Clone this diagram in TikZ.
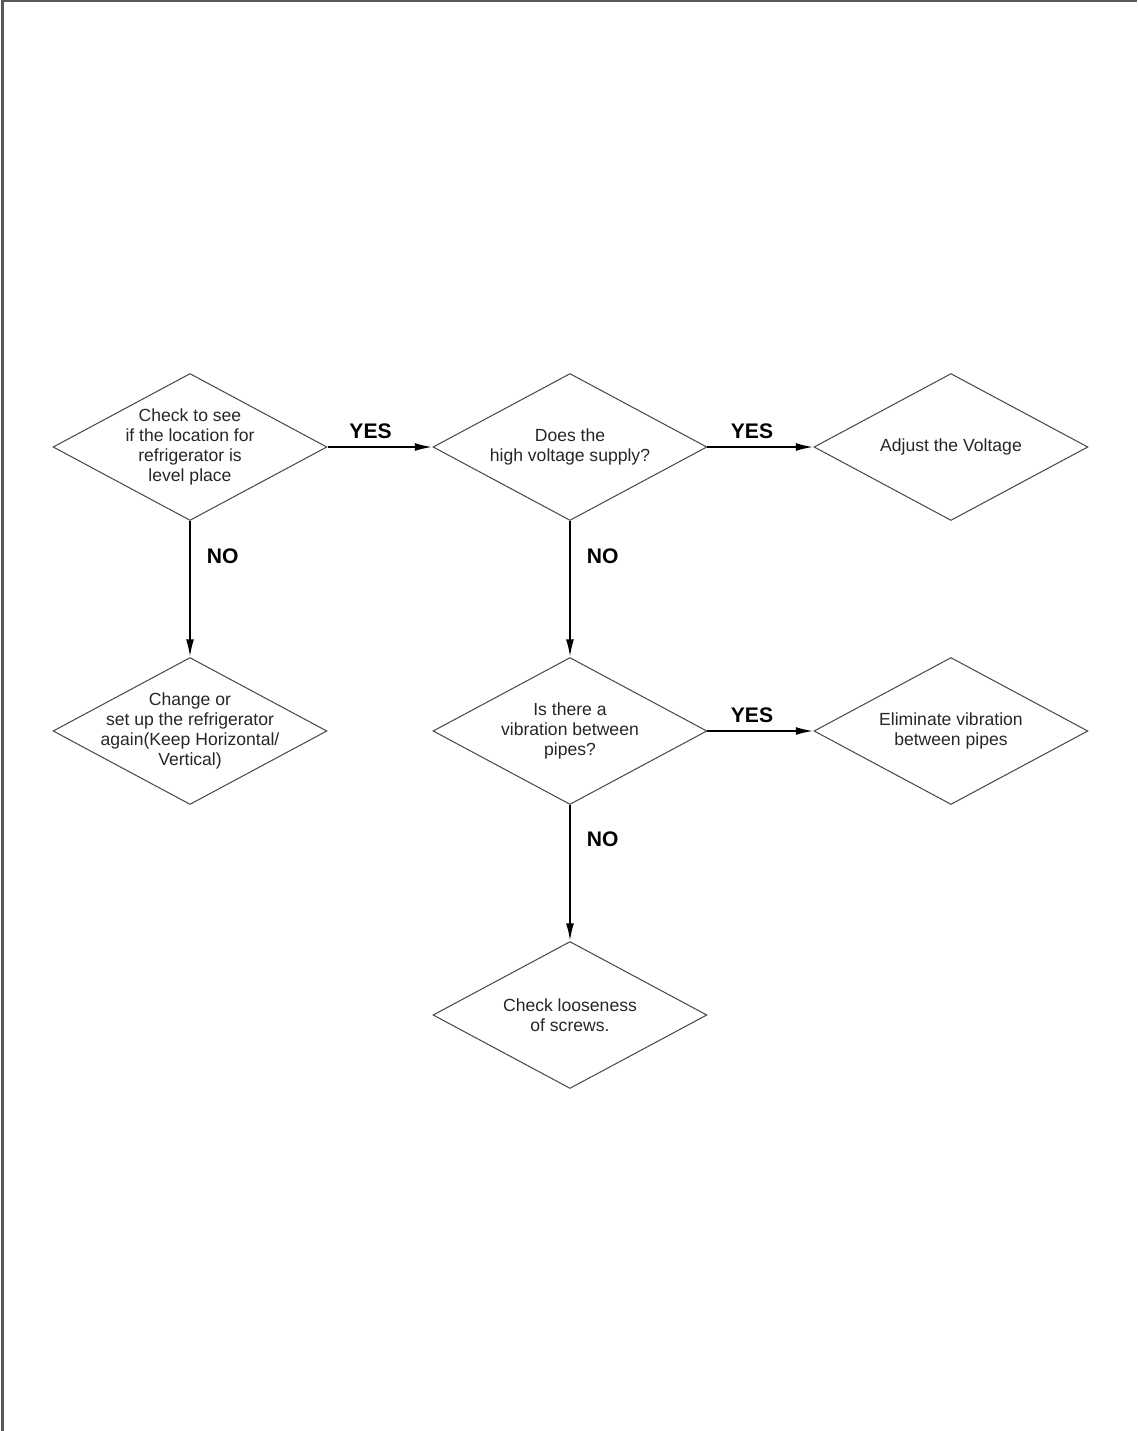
\documentclass[tikz,border=0pt]{standalone}
\usepackage{fontspec}
\setmainfont{Liberation Sans}
\usetikzlibrary{positioning,arrows.meta,shapes.geometric}

\begin{document}
\begin{tikzpicture}[x=0.02cm,y=-0.02cm,
  every node/.style={font=\fontsize{10}{11.4}\selectfont,text=black!85},
  choice/.style={diamond,draw=black!70,line width=0.6pt,inner sep=0pt,
    minimum width=5.48cm,minimum height=2.94cm,
    label={[align=center,inner sep=0pt]center:{#1}}},
  arrow/.style={-{Latex[length=10pt,width=4.5pt]},line width=1.1pt},
  ans/.style={font=\bfseries\fontsize{12}{14}\selectfont,text=black,inner sep=0pt}
]
  \useasboundingbox (0,0) rectangle (1137,1431);
  % scan edge
  \draw[black!65,line width=1.2pt] (2.5,1431) -- (2.5,0.6) -- (1137,0.6);

  \node[choice={Check to see\\if the location for\\refrigerator is\\level place}] (level) at (190,447) {};
  \node[choice={Does the\\high voltage supply?},right=2.1cm of level] (volt) {};
  \node[choice={Adjust the Voltage},right=2.12cm of volt] (adjust) {};
  \node[choice={Change or\\set up the refrigerator\\again(Keep Horizontal/\\Vertical)},below=2.72cm of level] (setup) {};
  \node[choice={Is there a\\vibration between\\pipes?},below=2.72cm of volt] (pipes) {};
  \node[choice={Eliminate vibration\\between pipes},below=2.72cm of adjust] (elim) {};
  \node[choice={Check looseness\\of screws.},below=2.72cm of pipes] (screws) {};

  \draw[arrow] (level) -- node[ans,above=0.14cm,pos=0.41] {YES} (volt);
  \draw[arrow] (volt) -- node[ans,above=0.14cm,pos=0.42] {YES} (adjust);
  \draw[arrow] (pipes) -- node[ans,above=0.14cm,pos=0.42] {YES} (elim);
  \draw[arrow] (level) -- node[ans,right=0.32cm,pos=0.26] {NO} (setup);
  \draw[arrow] (volt) -- node[ans,right=0.32cm,pos=0.26] {NO} (pipes);
  \draw[arrow] (pipes) -- node[ans,right=0.32cm,pos=0.25] {NO} (screws);
\end{tikzpicture}
\end{document}
